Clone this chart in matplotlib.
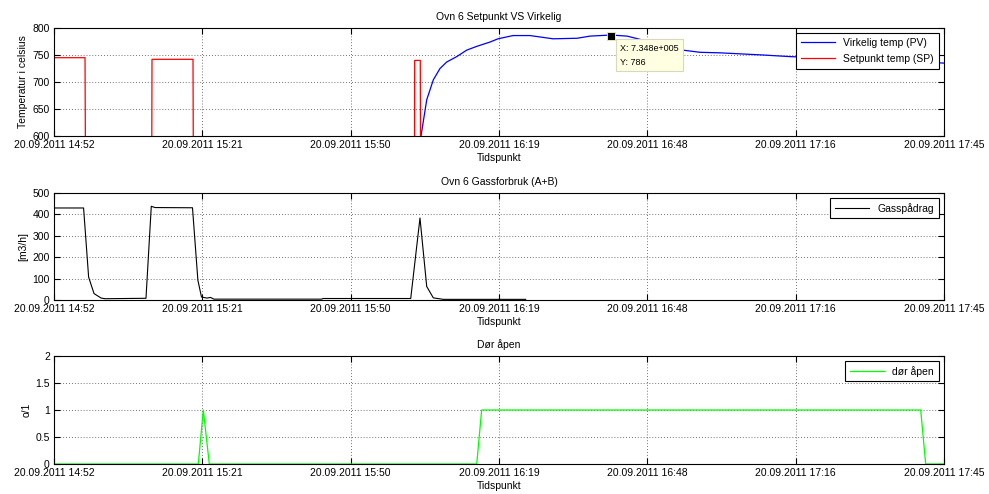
import matplotlib
matplotlib.use("Agg")
import matplotlib.pyplot as plt
import numpy as np

plt.rcParams['font.family'] = ['Liberation Sans', 'DejaVu Sans']
FS = 7.5

# ---- data (x = minutes after 20.09.2011 14:52) ----
x_ticklabels = ["20.09.2011 14:52", "20.09.2011 15:21", "20.09.2011 15:50",
                "20.09.2011 16:19", "20.09.2011 16:48", "20.09.2011 17:16",
                "20.09.2011 17:45"]
x_min, x_max = 0.0, 173.0

sp_t = [0, 6.03, 6.36, 18.86, 19.05, 27.02, 27.27, 69.98, 70.11, 71.20, 71.40, 100.0]
sp_v = [745, 745, 0, 0, 742, 742, 0, 0, 740, 740, 0, 0]

pv_t = [70.9, 71.34, 72.45, 73.73, 75.03, 76.33, 78.28, 80.22, 82.17, 84.75, 86.31,
        89.22, 92.53, 97.00, 101.66, 104.19, 108.27, 111.38, 113.91, 117.80,
        122.27, 125.57, 129.46, 137.82, 143.07, 154.73, 164.45, 173.0]
pv_v = [560, 600, 667, 704, 725, 737, 747, 759, 766, 774, 780,
        786, 786, 780, 781, 785, 787, 785, 779, 764,
        759, 755, 754, 750, 747, 743, 739, 735]

gas_t = [0, 5.75, 6.73, 7.78, 9.16, 9.91, 17.88, 18.91, 19.63, 26.92, 27.97,
         28.67, 29.72, 30.42, 31.10, 52.02, 52.29, 69.34, 71.14, 72.45, 73.73,
         75.67, 91.69]
gas_v = [430, 430, 107, 30, 9, 6, 8, 438, 432, 431, 92,
         14, 9, 12, 4, 4, 7, 7, 383, 63, 10,
         3, 3]

door_t = [0, 28.05, 29.02, 30.19, 82.17, 83.13, 168.47, 169.44, 173.0]
door_v = [0, 0, 1, 0, 0, 1, 1, 0, 0]

tip_x, tip_y = 108.27, 786

# ---- figure ----
W, H = 989, 494
fig = plt.figure(figsize=(W / 100, H / 100), dpi=100)

def ax_at(left, top, right, bottom):
    return fig.add_axes([left / W, 1 - bottom / H, (right - left) / W, (bottom - top) / H])

axes = [ax_at(54, 28, 944, 136), ax_at(54, 193, 944, 300), ax_at(54, 356, 944, 464)]

xticks = np.linspace(x_min, x_max, 7)

def style(ax, yticks, ylim, title, ylabel):
    ax.set_xlim(x_min, x_max)
    ax.set_ylim(*ylim)
    ax.set_xticks(xticks)
    ax.set_xticklabels(x_ticklabels, fontsize=FS)
    ax.set_yticks(yticks)
    ax.set_yticklabels([("%g" % v) for v in yticks], fontsize=FS)
    ax.tick_params(direction='in', length=4, width=0.8, top=True, right=True,
                   pad=3, colors='k')
    ax.grid(True, linestyle=(0, (1, 2.5)), color='#444444', linewidth=0.6)
    for s in ax.spines.values():
        s.set_linewidth(0.8)
    ax.set_title(title, fontsize=FS, pad=6)
    ax.set_xlabel("Tidspunkt", fontsize=FS, labelpad=2)
    ax.set_ylabel(ylabel, fontsize=FS, labelpad=3)

def legend(ax, **kw):
    leg = ax.legend(loc='upper right', fontsize=FS, fancybox=False, framealpha=1,
                    edgecolor='k', handlelength=3.3, borderaxespad=0.5,
                    borderpad=0.45, **kw)
    leg.get_frame().set_linewidth(0.8)

# top
ax = axes[0]
ax.plot(pv_t, pv_v, color='#0000ff', lw=0.9, label='Virkelig temp (PV)')
ax.plot(sp_t, sp_v, color='#ff0000', lw=0.9, label='Setpunkt temp (SP)')
style(ax, [600, 650, 700, 750, 800], (600, 800), "Ovn 6 Setpunkt VS Virkelig",
      "Temperatur i celsius")
legend(ax, labelspacing=0.6)
ax.plot([tip_x], [tip_y], marker='s', ms=5.5, mfc='k', mec='#e8e8b0', mew=0.7,
        zorder=6, clip_on=False)
ax.annotate("X: 7.348e+005\nY: 786", xy=(tip_x, tip_y), xytext=(6.5, -6),
            textcoords='offset points', fontsize=6.5, va='top', ha='left',
            linespacing=1.7,
            bbox=dict(boxstyle='square,pad=0.5', fc='#ffffe1', ec='#d8d8c0', lw=0.8),
            zorder=7)

# middle
ax = axes[1]
ax.plot(gas_t, gas_v, color='k', lw=0.8, label='Gasspådrag')
style(ax, [0, 100, 200, 300, 400, 500], (0, 500), "Ovn 6 Gassforbruk (A+B)", "[m3/h]")
legend(ax)

# bottom
ax = axes[2]
ax.plot(door_t, door_v, color='#00ff00', lw=0.9, label='dør åpen')
style(ax, [0, 0.5, 1, 1.5, 2], (0, 2), "Dør åpen", "o/1")
legend(ax)

fig.savefig("out.png", dpi=100, facecolor='white')
